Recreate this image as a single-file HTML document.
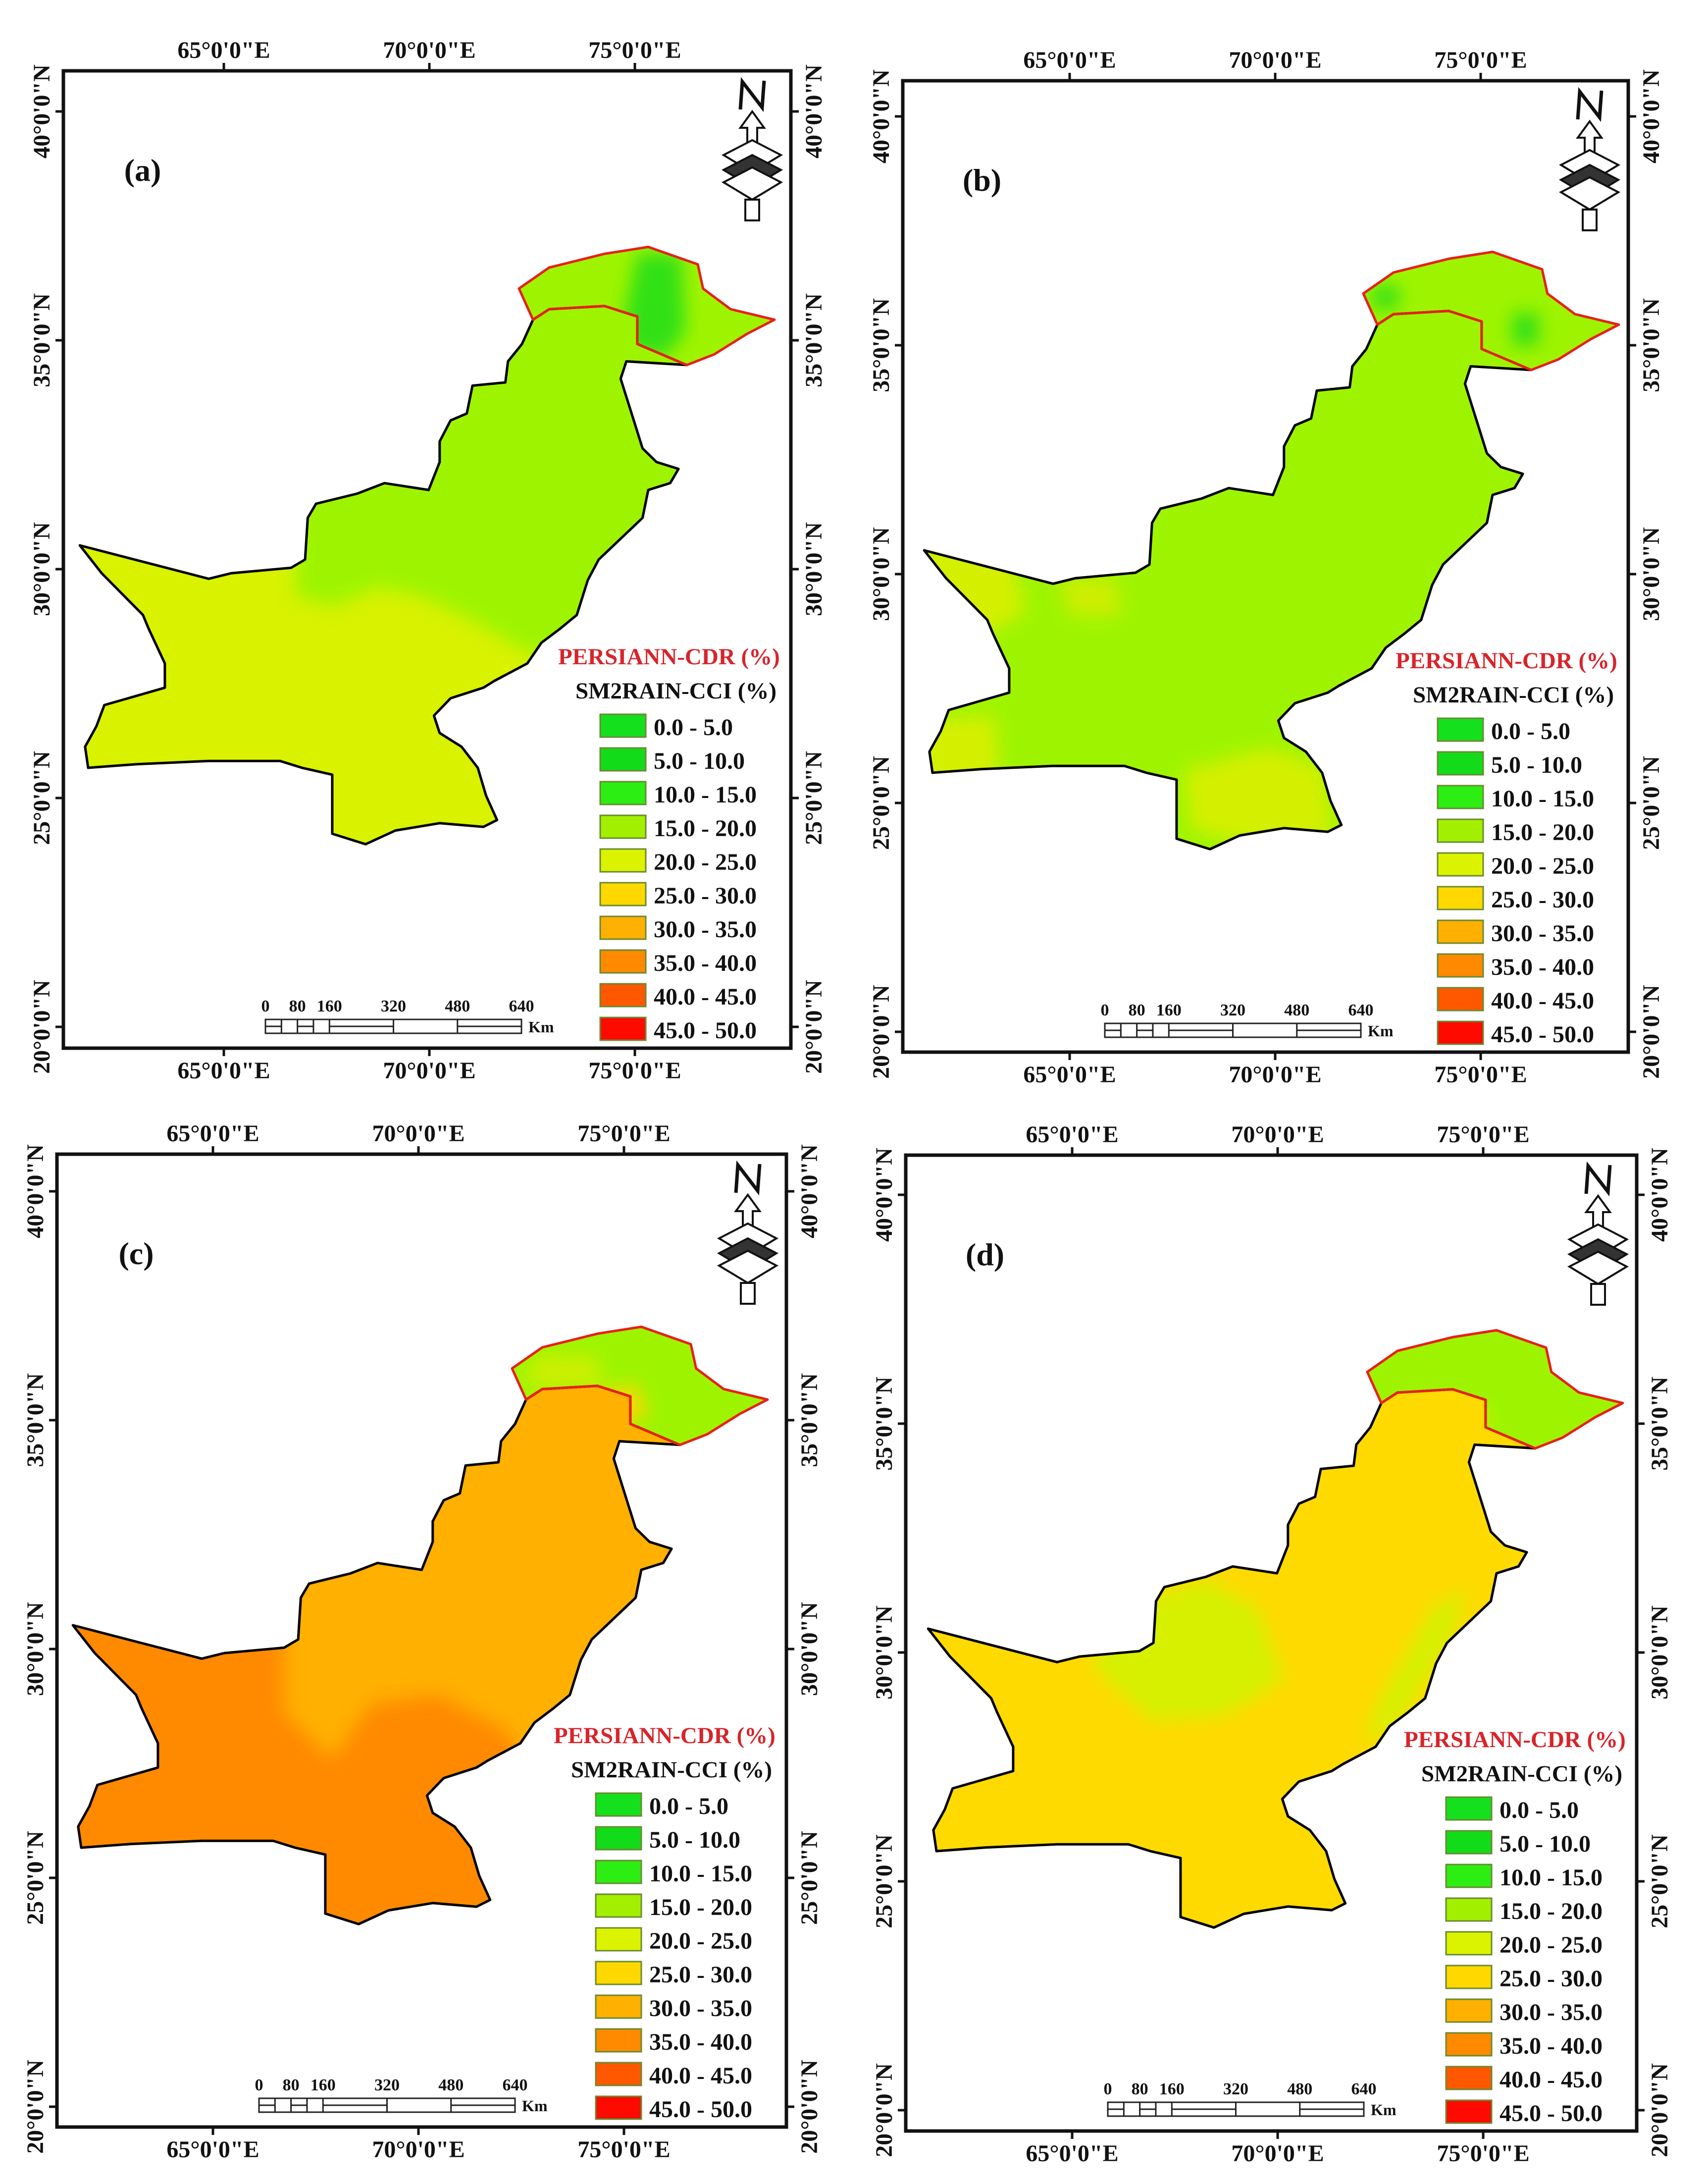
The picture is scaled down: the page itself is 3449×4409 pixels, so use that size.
<!DOCTYPE html>
<html><head><meta charset="utf-8"><style>
html,body{margin:0;padding:0;background:#fff}
svg{display:block}
text{font-family:"Liberation Serif",serif;font-weight:bold}
</style></head><body>
<svg id="fig" width="3449" height="4409" viewBox="0 0 3449 4409" xmlns="http://www.w3.org/2000/svg">
<defs>
<filter id="blur" x="-20%" y="-20%" width="140%" height="140%"><feGaussianBlur stdDeviation="18"/></filter>
</defs>
</svg>
<script>
const NS='http://www.w3.org/2000/svg';
const svg=document.getElementById('fig');
// geographic outline data (lon, lat)
const mainLon=[61.68,64.62,65.13,66.50,66.82,66.88,67.07,68.01,68.63,69.64,69.89,69.89,70.14,70.51,70.64,71.39,71.45,71.77,72.02,72.39,73.65,74.40,74.40,75.53,74.15,74.02,74.27,74.52,74.84,75.34,75.15,74.65,74.52,73.52,73.27,73.02,72.64,72.21,71.89,71.14,70.89,70.14,69.76,69.89,70.39,70.76,70.95,71.20,70.89,69.89,68.88,68.20,67.44,67.44,66.75,66.25,64.62,63.00,61.87,61.80,62.06,62.24,63.62,63.62,63.25,63.12,62.18];
const mainLat=[30.52,29.79,29.91,30.03,30.21,31.12,31.43,31.65,31.88,31.73,32.34,32.79,33.25,33.40,34.01,34.08,34.54,34.92,35.45,35.68,35.75,35.52,34.92,34.46,34.54,34.16,33.40,32.64,32.34,32.19,31.88,31.73,31.12,30.21,29.76,29.00,28.70,28.39,27.94,27.56,27.41,27.18,26.80,26.42,26.12,25.66,25.05,24.52,24.37,24.45,24.29,23.99,24.22,25.51,25.66,25.81,25.81,25.74,25.66,26.12,26.57,27.03,27.41,27.94,28.70,29.00,29.91];
const gbLon=[72.02,71.70,72.39,73.65,74.65,75.78,75.90,76.53,77.53,76.90,76.15,75.53,74.40,74.40,73.65,72.39];
const gbLat=[35.45,36.13,36.59,36.89,37.04,36.66,36.13,35.68,35.45,35.14,34.69,34.46,34.92,35.52,35.75,35.68];
const legendLabels=['0.0 - 5.0','5.0 - 10.0','10.0 - 15.0','15.0 - 20.0','20.0 - 25.0','25.0 - 30.0','30.0 - 35.0','35.0 - 40.0','40.0 - 45.0','45.0 - 50.0'];
const legendColors=['#14e01e','#12dc1a','#2cee12','#a2f000','#dcf300','#ffd800','#ffb000','#ff8a00','#ff5800','#ff0a00'];
const lonTicks=[65,70,75];
const latTicks=[20,25,30,35,40];
const scaleKm=[0,80,160,320,480,640];
const panelLabels=['(a)','(b)','(c)','(d)'];
const mainBase=['#d8f200','#9ef400','#ffb000','#ffda00'];
const gbBase=['#9ef400','#9ef400','#9ef400','#9ef400'];
const patchPanel=[0,0,1,1,1,1,1,1,2,2,2,3,3,3];
const patchColor=['#9ef400','#30e012','#d4f000','#d4f000','#d4f000','#cfee00','#30e012','#30e012','#ff8a00','#ffd800','#ccf000','#d6f000','#d6f000','#d6f000'];
const patchLon=[
 [60,66.6,66.6,67.5,68.5,69.5,70.6,71.5,72.3,73,76,76,60],
 [74.0,74.4,75.4,75.5,75.0,74.2],
 [61,63.6,64.0,63,61],
 [61,63.3,63.4,62,61],
 [67.6,69.5,70.8,71,69.2,67.8],
 [64.8,66.0,66.2,65.0],
 [71.9,72.5,72.5,71.9],
 [75.1,75.7,75.7,75.1],
 [60,66.5,66.5,67.6,68.5,70,71.6,72.2,72,60],
 [72,74.5,74.8,72.5],
 [72,73.8,73.6,72.2],
 [65.5,68.0,69.2,69.8,68.4,66.8,65.5],
 [72.0,73.2,74.0,73.6,72.4,71.6],
 [71.8,74.4,74.4,72.4]
];
const patchLat=[
 [31,31,29.4,29.2,29.6,29.4,28.9,28.4,28.0,28.5,29,38,38],
 [35.0,36.9,36.9,35.2,34.6,34.8],
 [30.8,30.5,29.2,28.6,28.6],
 [26.8,26.9,25.5,25.4,25.4],
 [25.7,26.2,25.8,24.2,24.1,24.4],
 [29.9,29.9,29.1,29.1],
 [35.8,35.8,36.3,36.3],
 [35.0,35.0,35.7,35.7],
 [31,31,28.6,27.6,28.8,29.0,28.2,27.0,23,23],
 [35.0,35.8,35.1,34.6],
 [35.7,35.75,36.4,36.4],
 [30.8,31.6,31.0,29.4,28.6,28.5,29.6],
 [29.0,31.0,31.4,30.2,28.4,28.0],
 [34.6,34.8,35.3,35.4]
];
const panels=[
 {L:128,T:143,R:1597,B:2116,x65:452,y20:2073,mx65:455},
 {L:1823,T:163,R:3288,B:2124,x65:2160,y20:2083,mx65:2160},
 {L:115,T:2330,R:1588,B:4294,x65:430,y20:4253,mx65:441},
 {L:1829,T:2332,R:3305,B:4302,x65:2165,y20:4260,mx65:2168}
];
const KX=83, KY=92.4, KXM=88.5;
function el(tag,attrs,parent){const e=document.createElementNS(NS,tag);for(const k in attrs)e.setAttribute(k,attrs[k]);(parent||svg).appendChild(e);return e;}
function pts(p,lons,lats){return lons.map((lo,i)=>((p.mx65+(lo-65)*KXM).toFixed(1)+','+(p.y20-(lats[i]-20)*KY).toFixed(1))).join(' ');}

panels.forEach((p,pi)=>{
  const g=el('g',{});
  
  
  const cm=el('clipPath',{id:'cm'+pi},g); el('polygon',{points:pts(p,mainLon,mainLat)},cm);
  const cg=el('clipPath',{id:'cg'+pi},g); el('polygon',{points:pts(p,gbLon,gbLat)},cg);
  const gm=el('g',{'clip-path':'url(#cm'+pi+')'},g);
  el('polygon',{points:pts(p,mainLon,mainLat),fill:mainBase[pi]},gm);
  const gmb=el('g',{filter:'url(#blur)'},gm);
  const gg=el('g',{'clip-path':'url(#cg'+pi+')'},g);
  el('polygon',{points:pts(p,gbLon,gbLat),fill:gbBase[pi]},gg);
  const ggb=el('g',{filter:'url(#blur)'},gg);
  patchPanel.forEach((pp,k)=>{
    if(pp!==pi)return;
    const inGB=patchLat[k].every(v=>v>34.4)&&patchLon[k].every(v=>v>71.5);
    const pg=el('polygon',{points:pts(p,patchLon[k],patchLat[k]),fill:patchColor[k]},inGB?ggb:gmb);
    
    
  });
  const outline=el('polygon',{points:pts(p,mainLon,mainLat),fill:'none',stroke:'#000','stroke-width':5,'stroke-linejoin':'round'},g);
  
  
  const gbo=el('polygon',{points:pts(p,gbLon,gbLat),fill:'none',stroke:'#e8201a','stroke-width':5,'stroke-linejoin':'round'},g);
  
  
  const fr=el('rect',{x:p.L,y:p.T,width:p.R-p.L,height:p.B-p.T,fill:'none',stroke:'#111','stroke-width':7},g);
  
  
  lonTicks.forEach(lo=>{
    const x=p.x65+(lo-65)*KX;
    el('line',{x1:x,y1:p.T,x2:x,y2:p.T-16,stroke:'#111','stroke-width':5},g);
    el('line',{x1:x,y1:p.B,x2:x,y2:p.B+16,stroke:'#111','stroke-width':5},g);
    const t1=el('text',{x:x,y:p.T-26,'font-size':48,'text-anchor':'middle',fill:'#111'},g);t1.textContent=lo+"°0'0\"E";
    
    
    const t2=el('text',{x:x,y:p.B+61,'font-size':48,'text-anchor':'middle',fill:'#111'},g);t2.textContent=lo+"°0'0\"E";
    
    
  });
  latTicks.forEach(la=>{
    const y=p.y20-(la-20)*KY;
    el('line',{x1:p.L,y1:y,x2:p.L-16,y2:y,stroke:'#111','stroke-width':5},g);
    el('line',{x1:p.R,y1:y,x2:p.R+16,y2:y,stroke:'#111','stroke-width':5},g);
    const xl=p.L-28, xr=p.R+62;
    const t1=el('text',{x:xl,y:y,'font-size':48,'text-anchor':'middle',fill:'#111',transform:'rotate(-90 '+xl+' '+y+')'},g);t1.textContent=la+"°0'0\"N";
    
    
    const t2=el('text',{x:xr,y:y,'font-size':48,'text-anchor':'middle',fill:'#111',transform:'rotate(-90 '+xr+' '+y+')'},g);t2.textContent=la+"°0'0\"N";
    
    
  });
  const pl=el('text',{x:p.L+160,y:p.T+222,'font-size':64,'text-anchor':'middle',fill:'#111'},g);pl.textContent=panelLabels[pi];
  
  
  const lg=el('g',{},g);
  
  
  const t1=el('text',{x:p.R-470,y:p.B-775,'font-size':47,fill:'#d8242a'},lg);t1.textContent='PERSIANN-CDR (%)';
  
  
  const t2=el('text',{x:p.R-435,y:p.B-706,'font-size':47,fill:'#111'},lg);t2.textContent='SM2RAIN-CCI (%)';
  
  
  legendLabels.forEach((lab,i)=>{
    const y=p.B-674+i*68;
    const r=el('rect',{x:p.R-385,y:y,width:92,height:46,fill:legendColors[i],stroke:'#6a8a30','stroke-width':3},lg);
    
    
    const t=el('text',{x:p.R-277,y:y+42,'font-size':48,fill:'#111'},lg);t.textContent=lab;
    
    
  });
  const sb=el('g',{},g);
  
  
  const sx=p.L+408, sy=p.B-58, sw=517, kpx=sw/640;
  el('rect',{x:sx,y:sy,width:sw,height:28,fill:'#fff',stroke:'#222','stroke-width':3},sb);
  [40,80,120,160,320,480].forEach(k=>el('line',{x1:sx+k*kpx,y1:sy,x2:sx+k*kpx,y2:sy+28,stroke:'#222','stroke-width':3},sb));
  [[0,40],[80,120],[160,320],[480,640]].forEach(s=>el('line',{x1:sx+s[0]*kpx,y1:sy+14,x2:sx+s[1]*kpx,y2:sy+14,stroke:'#222','stroke-width':3},sb));
  scaleKm.forEach(k=>{const t=el('text',{x:sx+k*kpx,y:sy-16,'font-size':34,'text-anchor':'middle',fill:'#111'},sb);t.textContent=k;});
  const km=el('text',{x:sx+sw+14,y:sy+26,'font-size':32,fill:'#111'},sb);km.textContent='Km';
  const na=el('g',{transform:'translate('+(p.R-78)+','+(p.T+20)+')'},g);
  
  
  el('path',{d:'M-24,58 L-20,2 L20,54 L24,0',fill:'none',stroke:'#111','stroke-width':7},na);
  el('path',{d:'M0,62 L-24,95 L-10,95 L-10,135 L10,135 L10,95 L24,95 Z',fill:'#fff',stroke:'#111','stroke-width':4},na);
  [0,30,55].forEach(d=>el('path',{d:'M-58,'+(150+d)+' L0,'+(120+d)+' L58,'+(150+d)+' L0,'+(185+d)+' Z',fill:d===30?'#333':'#fff',stroke:'#111','stroke-width':4},na));
  el('path',{d:'M-14,240 L14,240 L14,282 L-14,282 Z',fill:'#fff',stroke:'#111','stroke-width':4},na);
});
</script>
</body></html>
